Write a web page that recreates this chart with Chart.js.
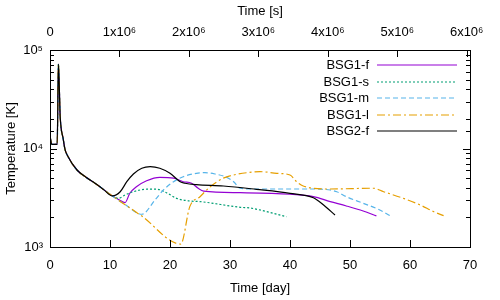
<!DOCTYPE html>
<html>
<head>
<meta charset="utf-8">
<script src="https://cdn.jsdelivr.net/npm/chart.js@4/dist/chart.umd.min.js"></script>
<style>
  html, body { margin: 0; padding: 0; background: #fff; }
  canvas { display: block; }
</style>
</head>
<body>
<canvas id="chart" width="500" height="300"></canvas>
<script>
// shared early evolution (all models overlap here)
const earlyDays = [0, 0.3, 1.2, 1.4, 1.7, 2.2, 2.5, 2.95, 4.5, 6.0, 7.5, 9.0, 10.4];
const earlyTemp = [13400, 11000, 11000, 72000, 21000, 12500, 9800, 8400, 6050, 5100, 4450, 3800, 3300];

const bsg1fDays = [11.5, 12.5, 13.3, 14.4, 16.1, 18.3, 20.6, 22.2, 23.6, 24.7, 25.6, 31.7, 40.0, 43.9, 46.7, 49.4, 52.2, 54.4];
const bsg1fTemp = [3020, 2820, 3510, 4090, 4710, 5100, 5000, 4600, 4440, 3950, 3700, 3560, 3430, 3240, 2890, 2610, 2320, 2070];

const bsg1sDays = [11.4, 12.5, 13.9, 16.1, 17.8, 19.4, 21.1, 23.3, 25.0, 31.7, 33.3, 39.4];
const bsg1sTemp = [3120, 3370, 3640, 3860, 3860, 3560, 3120, 2930, 2890, 2530, 2490, 2030];

const bsg1mDays = [12.5, 15.3, 17.5, 18.9, 20.6, 22.2, 24.4, 25.8, 27.5, 29.2, 30.6, 31.7, 34.4, 40.0, 43.9, 46.7, 47.8, 49.4, 52.2, 54.7, 56.7];
const bsg1mTemp = [2700, 2150, 3000, 3790, 4600, 5170, 5600, 5680, 5510, 5170, 4600, 3950, 3880, 3880, 3880, 3790, 3640, 3240, 2780, 2420, 2080];

const bsg1lDays = [15.3, 21.8, 23.3, 25.0, 26.7, 28.9, 30.6, 32.8, 35.0, 37.8, 40.0, 41.1, 42.2, 46.7, 53.9, 55.6, 58.9, 61.7, 63.9, 65.6];
const bsg1lTemp = [2060, 1070, 2570, 3240, 4090, 5000, 5380, 5680, 5820, 5600, 5380, 4600, 4160, 3880, 3950, 3640, 3120, 2670, 2290, 2080];

const bsg2fDays = [11.7, 12.8, 13.9, 15.3, 16.7, 18.3, 20.0, 21.7, 22.5, 24.4, 28.9, 34.4, 40.0, 43.9, 44.7, 45.6, 47.5];
const bsg2fTemp = [3640, 4600, 5510, 6300, 6540, 6300, 5600, 4600, 4440, 4290, 4160, 3850, 3510, 3160, 2950, 2670, 2110];

const seriesLabels = ['BSG1-f', 'BSG1-s', 'BSG1-m', 'BSG1-l', 'BSG2-f'];
const seriesColors = ['#9400d3', '#009e73', '#56b4e9', '#e69f00', '#000000'];
const seriesDashes = [[], [2, 2], [5, 3], [8, 3, 2, 3], []];

const dayTicks = [0, 10, 20, 30, 40, 50, 60, 70];
const secTicks = [0, 1e6, 2e6, 3e6, 4e6, 5e6, 6e6];
const SEC_PER_DAY = 86400;

const FONT = '"Liberation Sans", Arial, sans-serif';
const sup = { 3: '\u00b3', 4: '\u2074', 5: '\u2075', 6: '\u2076' };
const LW = 1.2;

function pts(days, temp) {
  const d = earlyDays.concat(days), t = earlyTemp.concat(temp);
  return d.map((x, i) => ({ x: x, y: t[i] }));
}

function series(i, days, temp, order) {
  return {
    label: seriesLabels[i], data: pts(days, temp),
    borderColor: seriesColors[i], borderDash: seriesDashes[i],
    borderWidth: LW, pointRadius: 0, fill: false, order,
    cubicInterpolationMode: 'monotone'
  };
}

// ticks drawn inward + frame, gnuplot style
const frameTicks = {
  id: 'frameTicks',
  afterDatasetsDraw(chart) {
    const { ctx, chartArea: a, scales } = chart;
    ctx.save();
    ctx.strokeStyle = '#000';
    ctx.lineWidth = 1;
    ctx.beginPath();
    dayTicks.forEach(v => {
      const px = Math.round(scales.x.getPixelForValue(v)) + 0.5;
      ctx.moveTo(px, a.bottom); ctx.lineTo(px, a.bottom - 7);
    });
    secTicks.forEach(v => {
      const px = Math.round(scales.x2.getPixelForValue(v)) + 0.5;
      ctx.moveTo(px, a.top); ctx.lineTo(px, a.top + 7);
    });
    scales.y.ticks.forEach(t => {
      const py = Math.round(scales.y.getPixelForValue(t.value)) + 0.5;
      const e = Math.log10(t.value);
      const len = Math.abs(e - Math.round(e)) < 1e-9 ? 7 : 4;
      ctx.moveTo(a.left, py); ctx.lineTo(a.left + len, py);
      ctx.moveTo(a.right, py); ctx.lineTo(a.right - len, py);
    });
    ctx.stroke();
    ctx.strokeRect(Math.round(a.left) + 0.5, Math.round(a.top) + 0.5,
      Math.round(a.right - a.left), Math.round(a.bottom - a.top));
    ctx.restore();
  }
};

// legend with text left of the line sample
const sampleLegend = {
  id: 'sampleLegend',
  afterDraw(chart) {
    const { ctx, chartArea: a } = chart;
    ctx.save();
    ctx.font = '13px ' + FONT;
    ctx.textAlign = 'right';
    ctx.textBaseline = 'middle';
    seriesLabels.forEach((label, i) => {
      const y = Math.round(a.top + 15 + i * 16.5);
      ctx.fillStyle = '#000';
      ctx.fillText(label, a.right - 101, y);
      ctx.strokeStyle = seriesColors[i];
      ctx.lineWidth = LW;
      ctx.setLineDash(seriesDashes[i]);
      ctx.beginPath();
      ctx.moveTo(a.right - 93, y); ctx.lineTo(a.right - 13, y);
      ctx.stroke();
    });
    ctx.restore();
  }
};

const tickFont = { family: FONT, size: 13 };

new Chart(document.getElementById('chart'), {
  type: 'line',
  data: {
    datasets: [
      series(0, bsg1fDays, bsg1fTemp, 4),
      series(1, bsg1sDays, bsg1sTemp, 3),
      series(2, bsg1mDays, bsg1mTemp, 2),
      series(3, bsg1lDays, bsg1lTemp, 1),
      series(4, bsg2fDays, bsg2fTemp, 0)
    ]
  },
  options: {
    responsive: false,
    animation: false,
    layout: { padding: { left: 0, right: 30, top: 0, bottom: 0 } },
    plugins: { legend: { display: false }, tooltip: { enabled: false } },
    scales: {
      x: {
        type: 'linear', position: 'bottom', min: 0, max: 70,
        grid: { display: false, drawTicks: false },
        border: { display: false },
        afterBuildTicks(s) { s.ticks = dayTicks.map(v => ({ value: v })); },
        ticks: { padding: 11, maxRotation: 0, color: '#000', font: tickFont },
        title: { display: true, text: 'Time [day]', color: '#000', font: tickFont },
        afterFit(s) { s.height = 53; }
      },
      x2: {
        type: 'linear', position: 'top', min: 0, max: 70 * SEC_PER_DAY,
        grid: { display: false, drawTicks: false },
        border: { display: false },
        afterBuildTicks(s) { s.ticks = secTicks.map(v => ({ value: v })); },
        ticks: {
          padding: 10, maxRotation: 0, color: '#000', font: tickFont,
          callback: v => v === 0 ? '0' : (v / 1e6) + 'x10' + sup[6]
        },
        title: { display: true, text: 'Time [s]', color: '#000', font: tickFont },
        afterFit(s) { s.height = 50; }
      },
      y: {
        type: 'logarithmic', position: 'left', min: 1000, max: 100000,
        grid: { display: false, drawTicks: false },
        border: { display: false },
        ticks: {
          padding: 7, color: '#000', font: tickFont, autoSkip: false,
          callback: v => {
            const e = Math.log10(v);
            return Math.abs(e - Math.round(e)) < 1e-9 ? '10' + sup[Math.round(e)] : '';
          }
        },
        title: { display: true, text: 'Temperature [K]', color: '#000', font: tickFont },
        afterFit(s) { s.width = 50; }
      }
    }
  },
  plugins: [frameTicks, sampleLegend]
});
</script>
</body>
</html>
